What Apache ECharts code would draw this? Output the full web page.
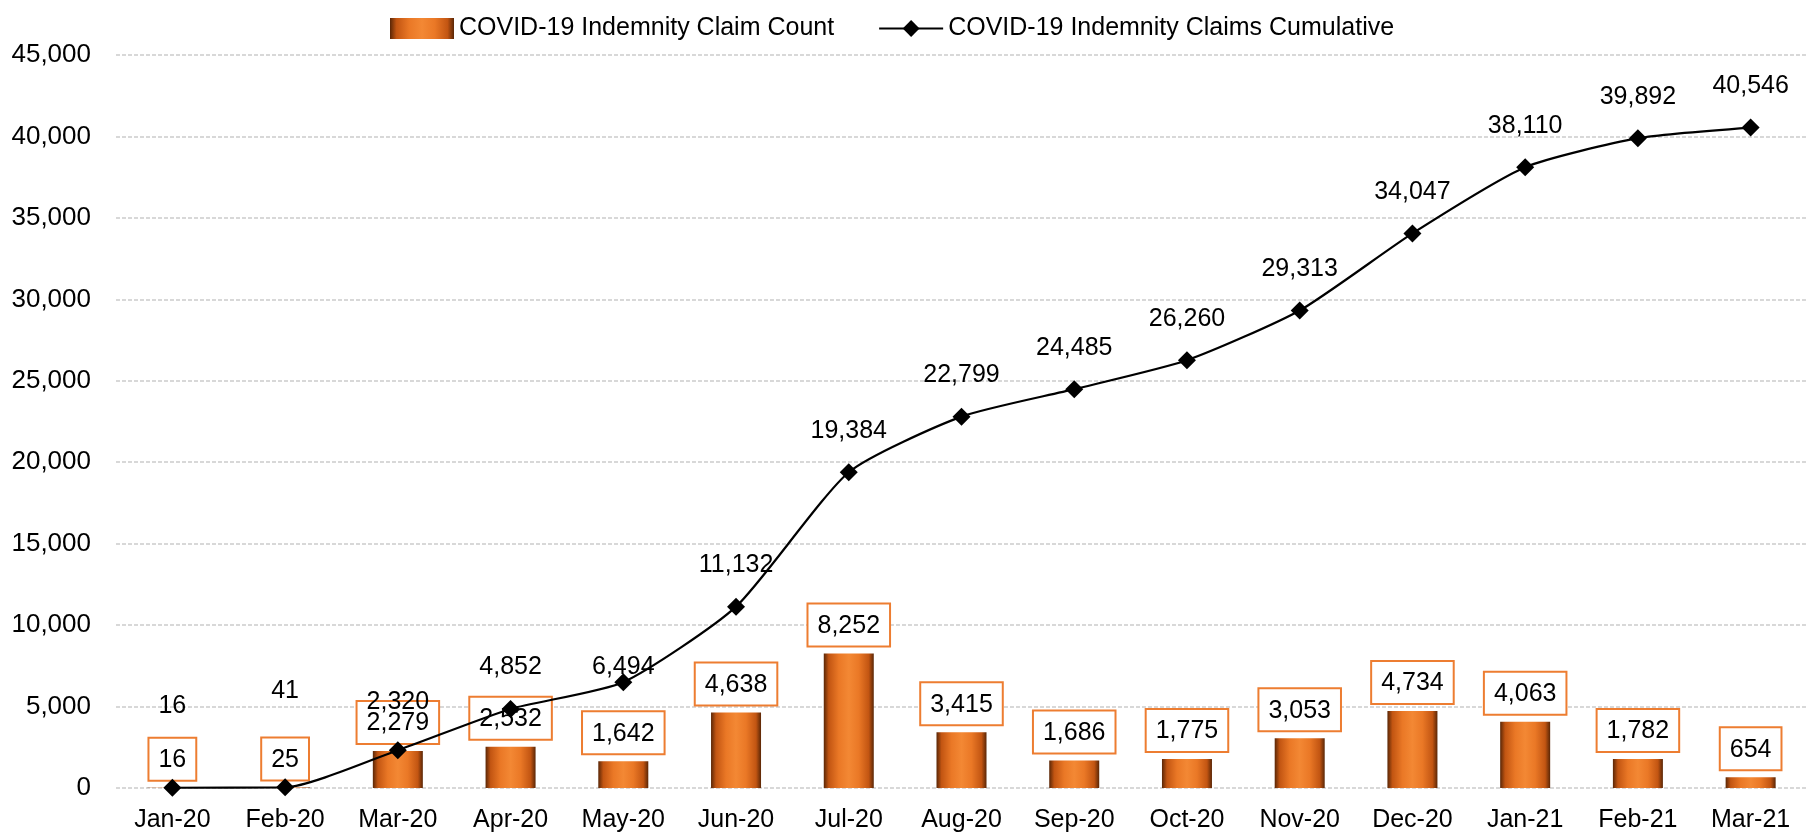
<!DOCTYPE html>
<html><head><meta charset="utf-8">
<script src="https://cdn.jsdelivr.net/npm/echarts@6/dist/echarts.min.js"></script>
<style>html,body{margin:0;padding:0;background:#fff}#c{width:1807px;height:834px}</style>
</head><body><div id="c"></div>
<script>
const categories = ['Jan-20','Feb-20','Mar-20','Apr-20','May-20','Jun-20','Jul-20','Aug-20','Sep-20','Oct-20','Nov-20','Dec-20','Jan-21','Feb-21','Mar-21'];
const claimCount = [16,25,2279,2532,1642,4638,8252,3415,1686,1775,3053,4734,4063,1782,654];
const claimsCumulative = [16,41,2320,4852,6494,11132,19384,22799,24485,26260,29313,34047,38110,39892,40546];
const seriesNames = ['COVID-19 Indemnity Claim Count','COVID-19 Indemnity Claims Cumulative'];

const FONT = 'Liberation Sans';
const fmt = v => Number(v).toLocaleString('en-US');
// extra upward offsets for a few hand-placed line labels (px)
const lineLabelLift = {0: 40, 1: 55, 2: 7, 4: -26};

const barGrad = new echarts.graphic.LinearGradient(0,0,1,0,[
  {offset:0, color:'#5a2606'},
  {offset:0.1, color:'#c25512'},
  {offset:0.3, color:'#ea7826'},
  {offset:0.5, color:'#f38834'},
  {offset:0.7, color:'#ea7826'},
  {offset:0.9, color:'#c25512'},
  {offset:1, color:'#5a2606'}
]);

const chart = echarts.init(document.getElementById('c'), null, {renderer:'canvas'});
chart.setOption({
  animation:false,
  textStyle:{fontFamily:FONT},
  legend:{
    top:11, left:385,
    itemGap:44,
    itemWidth:64, itemHeight:21,
    textStyle:{fontFamily:FONT, fontSize:25, color:'#000'},
    data:[
      {name:seriesNames[0], icon:'rect'},
      {name:seriesNames[1]}
    ]
  },
  grid:{left:116, top:55, width:1704, bottom:46, containLabel:false},
  xAxis:{
    type:'category', data:categories, boundaryGap:true,
    axisLine:{show:false}, axisTick:{show:false},
    axisLabel:{fontFamily:FONT, fontSize:25, color:'#000', margin:20, interval:0}
  },
  yAxis:{
    type:'value', min:0, max:45000, interval:5000,
    axisLine:{show:false}, axisTick:{show:false},
    axisLabel:{fontFamily:FONT, fontSize:26, color:'#000', margin:25, formatter:fmt},
    splitLine:{lineStyle:{color:'#cccccc', type:[4,2], width:1.5}}
  },
  series:[
    {
      name:seriesNames[0], type:'bar', barWidth:50,
      itemStyle:{color:barGrad},
      data:claimCount,
      label:{
        show:true, position:'top', distance:8,
        formatter:p=>fmt(p.value),
        fontFamily:FONT, fontSize:25, color:'#000',
        backgroundColor:'#fff', borderColor:'#ed7d31', borderWidth:2,
        padding:[9,9,7,9]
      },
      z:2
    },
    {
      name:seriesNames[1], type:'line', smooth:0.2,
      symbol:'diamond', symbolSize:18,
      lineStyle:{color:'#000', width:2.2},
      itemStyle:{color:'#000'},
      data:claimsCumulative.map((v,i)=>({
        value:v,
        label: lineLabelLift[i] !== undefined ? {offset:[0,-lineLabelLift[i]]} : undefined
      })),
      label:{
        show:true, position:'top', distance:20,
        formatter:p=>fmt(p.value),
        fontFamily:FONT, fontSize:25, color:'#000'
      },
      z:3
    }
  ]
});
</script></body></html>
